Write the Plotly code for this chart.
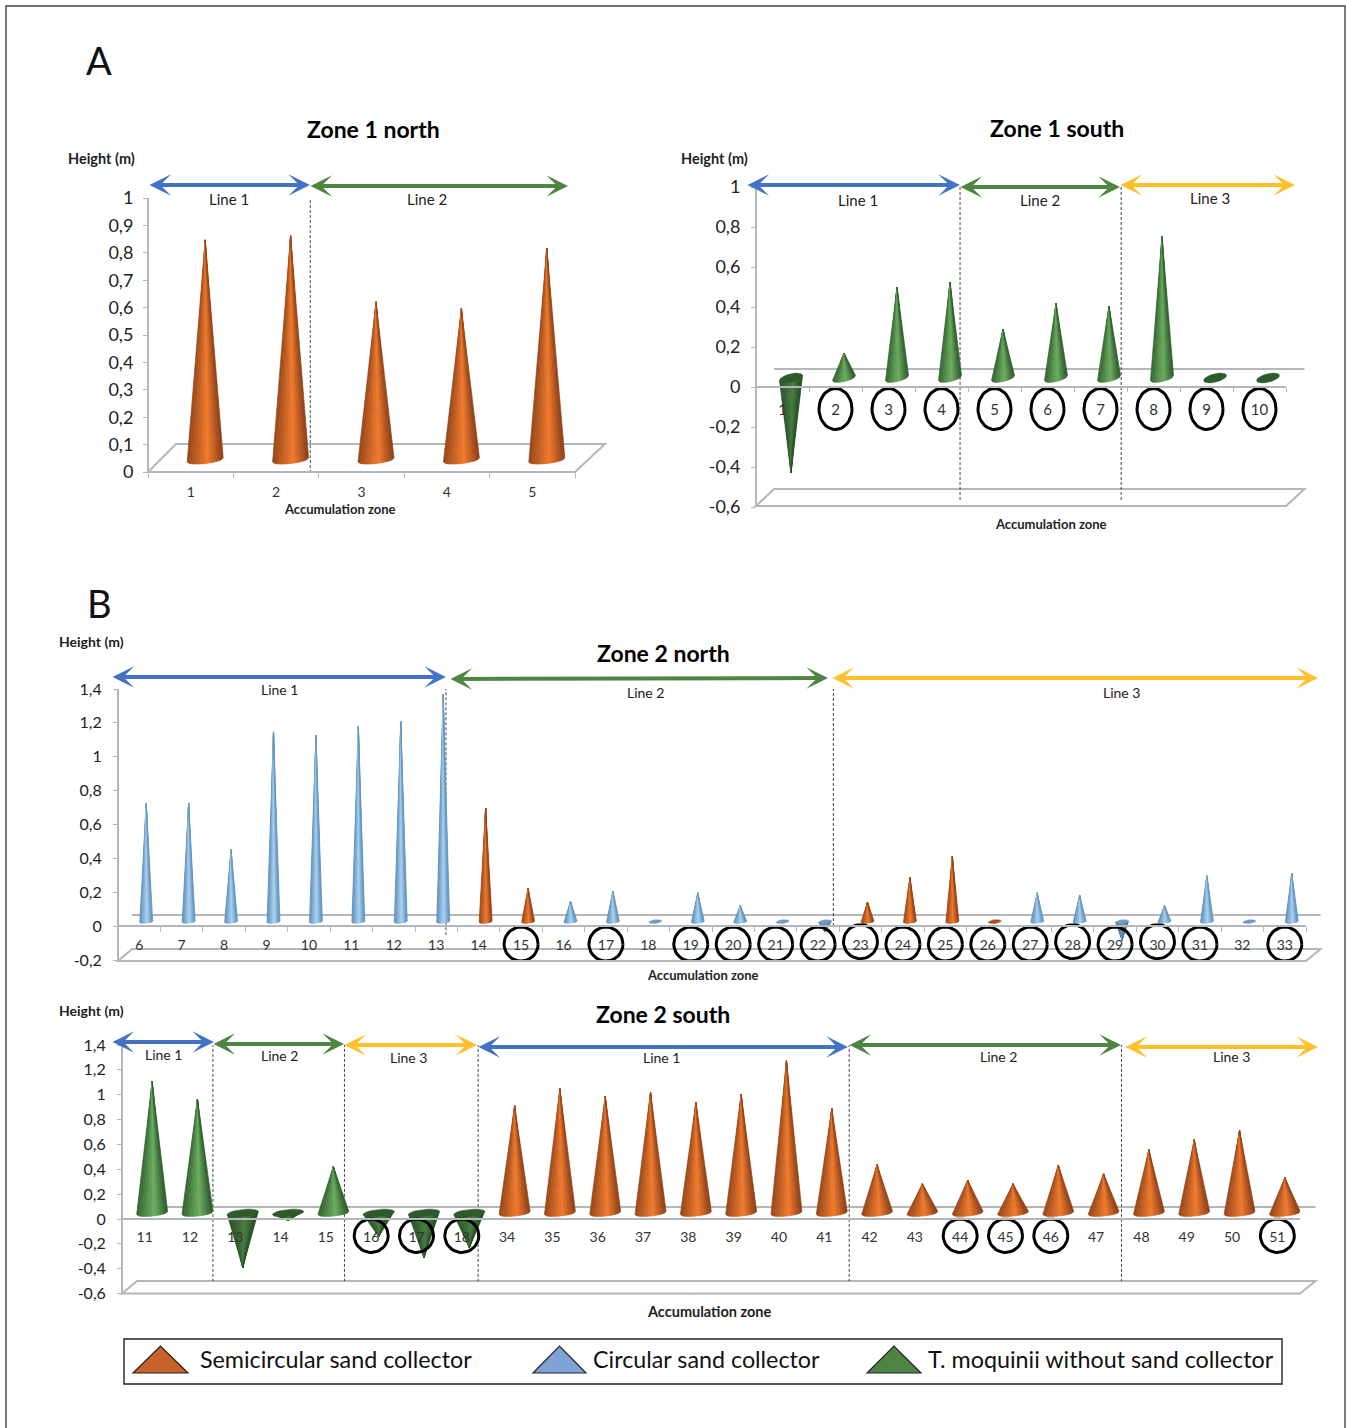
import math
import plotly.graph_objects as go

W, H = 1346, 1428

# ---------- data ----------
z1n_zones = [1, 2, 3, 4, 5]
z1n_heights = [0.803, 0.818, 0.577, 0.553, 0.773]
z1n_types = ["S", "S", "S", "S", "S"]
z1n_circled = []

z1s_zones = [1, 2, 3, 4, 5, 6, 7, 8, 9, 10]
z1s_heights = [-0.475, 0.125, 0.455, 0.48, 0.245, 0.375, 0.36, 0.71, 0, 0]
z1s_types = ["T"] * 10
z1s_circled = [2, 3, 4, 5, 6, 7, 8, 9, 10]

z2n_zones = list(range(6, 34))
z2n_heights = [0.70, 0.70, 0.425, 1.12, 1.10, 1.15, 1.18, 1.34, 0.67, 0.195, 0.12, 0.18, 0,
               0.17, 0.095, 0, -0.06, 0.115, 0.26, 0.385, 0, 0.17, 0.155, -0.11, 0.095, 0.27, 0, 0.285]
z2n_types = ["C"] * 8 + ["S", "S"] + ["C"] * 7 + ["S", "S", "S", "S"] + ["C"] * 7
z2n_circled = [15, 17, 19, 20, 21, 22, 23, 24, 25, 26, 27, 28, 29, 30, 31, 33]

z2s_zones = [11, 12, 13, 14, 15, 16, 17, 18] + list(range(34, 52))
z2s_heights = [1.06, 0.917, -0.44, -0.06, 0.375, -0.19, -0.36, -0.28,
               0.863, 1.0, 0.94, 0.97, 0.89, 0.957, 1.225, 0.84,
               0.39, 0.235, 0.265, 0.235, 0.385, 0.315, 0.51, 0.59, 0.665, 0.285]
z2s_types = ["T"] * 8 + ["S"] * 18
z2s_circled = [16, 17, 18, 44, 45, 46, 51]

ticks_01 = [i / 10 for i in range(0, 11)]
ticks_z1s = [-0.6, -0.4, -0.2, 0, 0.2, 0.4, 0.6, 0.8, 1]
ticks_z2n = [-0.2, 0, 0.2, 0.4, 0.6, 0.8, 1, 1.2, 1.4]
ticks_z2s = [-0.6, -0.4, -0.2, 0, 0.2, 0.4, 0.6, 0.8, 1, 1.2, 1.4]

legend_labels = ["Semicircular sand collector", "Circular sand collector", "T. moquinii without sand collector"]

# ---------- styling ----------
FONT = "Lato, Open Sans, sans-serif"
GRAY = "#B3B6BA"
BLUE, GREEN, YELLOW = "#4472C4", "#4E8542", "#FFC02D"
RAMP = {
    "S": ((150, 70, 26), (242, 122, 44), (140, 64, 24)),
    "C": ((92, 140, 182), (170, 212, 244), (96, 144, 186)),
    "T": ((50, 98, 46), (108, 174, 96), (44, 90, 42)),
}
RAMP_DOWN = {
    "S": ((130, 60, 22), (190, 95, 36), (120, 55, 20)),
    "C": ((78, 116, 150), (110, 150, 185), (78, 116, 150)),
    "T": ((40, 80, 38), (72, 124, 64), (36, 74, 34)),
}
TOP = {"S": "#A8501F", "C": "#6F9CC4", "T": "#2F5A2C"}
NB = 16


def band_color(ramp, t):
    a, b, c = ramp
    if t < 0.58:
        f = t / 0.58
        p, q = a, b
    else:
        f = (t - 0.58) / 0.42
        p, q = b, c
    return "rgb(%d,%d,%d)" % tuple(p[i] + (q[i] - p[i]) * f for i in range(3))


def px(x):
    return x / W


def py(y):
    return 1 - y / H


panels = [
    dict(name="", zones=z1n_zones, h=z1n_heights, types=z1n_types, circled=z1n_circled,
         x0=148, x1=575, ytop=198, ybot=472, rng=(0, 1), ticks=ticks_01,
         shift=14.5, base=460, hw=18, ry=3.5, tilt=2, zero_y=472,
         floor=(444, 472, 28, 30), back=None,
         dashes=[(2.40, 1.12, -0.04)], circ=(17, 17, []), ticklen=5, xfs=14, yfs=18, stand=7, ystand=6),
    dict(name="2", zones=z1s_zones, h=z1s_heights, types=z1s_types, circled=z1s_circled,
         x0=756, x1=1286, ytop=187, ybot=507, rng=(-0.6, 1), ticks=ticks_z1s,
         shift=8.5, base=378, hw=11.5, ry=3.5, tilt=2.5, zero_y=387,
         floor=(489, 506, 18, 18.5), back=369,
         dashes=[(4.35, 1.0, -0.565), (7.39, 1.0, -0.565)],
         circ=(16.5, 20.5, [-0.11] * 9), ticklen=4, xfs=15, yfs=18, stand=9, ystand=7),
    dict(name="3", zones=z2n_zones, h=z2n_heights, types=z2n_types, circled=z2n_circled,
         x0=118, x1=1306, ytop=689, ybot=960, rng=(-0.2, 1.4), ticks=ticks_z2n,
         shift=7, base=921.5, hw=6.5, ry=1.5, tilt=0.6, zero_y=926,
         floor=(949, 961, 14, 14.5), back=915,
         dashes=[(8.23, 1.41, -0.053), (17.36, 1.465, -0.012)],
         circ=(17, 17, [-0.106, -0.106, -0.106, -0.106, -0.106, -0.106, -0.092, -0.106, -0.106, -0.106,
                        -0.106, -0.092, -0.106, -0.092, -0.106, -0.106]),
         ticklen=5, xfs=14, yfs=16, stand=6, ystand=8),
    dict(name="4", zones=z2s_zones, h=z2s_heights, types=z2s_types, circled=z2s_circled,
         x0=122, x1=1300, ytop=1045, ybot=1293.6, rng=(-0.6, 1.4), ticks=ticks_z2s,
         shift=7.5, base=1213, hw=15.5, ry=3, tilt=1.5, zero_y=1219,
         floor=(1281, 1293.6, 15, 15.5), back=1207,
         dashes=[(2.507, 1.57, -0.5), (5.41, 1.57, -0.5), (8.36, 1.57, -0.5),
                 (16.55, 1.57, -0.5), (22.56, 1.57, -0.5)],
         circ=(17, 16.7, [-0.134] * 7), ticklen=0, xfs=14, yfs=16, stand=5, ystand=8),
]

fig = go.Figure()
layout = {}
shapes = []

for p in panels:
    n = len(p["zones"])
    xa, ya = "x" + p["name"], "y" + p["name"]
    uy = (p["ybot"] - p["ytop"]) / (p["rng"][1] - p["rng"][0])
    ux = (p["x1"] - p["x0"]) / n
    dx = p["shift"] / ux
    base = (p["zero_y"] - p["base"]) / uy
    hw, ry, tilt = p["hw"] / ux, p["ry"] / uy, p["tilt"] / uy

    layout["xaxis" + p["name"]] = dict(
        domain=[px(p["x0"]), px(p["x1"])], range=[0.5, n + 0.5], anchor="free",
        position=py(p["zero_y"]), showgrid=False, zeroline=False, showline=True,
        linecolor=GRAY, linewidth=2, tickvals=list(range(1, n + 1)),
        ticktext=[str(z) for z in p["zones"]], ticks="",
        tickfont=dict(family=FONT, size=p["xfs"], color="#333"), tickangle=0,
        ticklabelstandoff=p["stand"],
        minor=dict(tickvals=[0.5 + i for i in range(n + 1)], ticks="outside" if p["ticklen"] else "",
                   ticklen=p["ticklen"], tickcolor=GRAY, tickwidth=1, showgrid=False),
    )
    layout["yaxis" + p["name"]] = dict(
        domain=[py(p["ybot"]), py(p["ytop"])], range=list(p["rng"]), anchor="free",
        position=px(p["x0"]), showgrid=False, zeroline=False, showline=True,
        linecolor=GRAY, linewidth=2, tickvals=p["ticks"],
        ticktext=[("%g" % v).replace(".", ",") for v in p["ticks"]],
        ticks="outside", ticklen=4, tickcolor=GRAY, ticklabelstandoff=p["ystand"],
        tickfont=dict(family=FONT, size=p["yfs"], color="#222"),
    )

    # floor and back wall lines (drawn as page decoration)
    yb, yf, d1, d2 = p["floor"]
    shapes.append(dict(
        type="path", xref="paper", yref="paper", layer="below",
        path="M%f,%f L%f,%f L%f,%f L%f,%f Z" % (
            px(p["x0"]), py(yf), px(p["x0"] + d1), py(yb),
            px(p["x1"] + d2), py(yb), px(p["x1"]), py(yf)),
        line=dict(color=GRAY, width=2)))
    if p["back"]:
        shapes.append(dict(type="line", xref="paper", yref="paper", layer="below",
                           x0=px(p["x0"] + p["floor"][2]), x1=px(p["x1"] + p["floor"][3]),
                           y0=py(p["back"]), y1=py(p["back"]), line=dict(color=GRAY, width=2)))

    # dashed line separators
    for xv, yt, yl in p["dashes"]:
        fig.add_trace(go.Scatter(x=[xv, xv], y=[yt, yl], xaxis=xa, yaxis=ya, mode="lines",
                                 line=dict(color="#444", width=1, dash="3px,2px"),
                                 cliponaxis=False, hoverinfo="skip", showlegend=False))

    # cones from the height values
    for kind in ("S", "C", "T"):
        idx = [i for i in range(n) if p["types"][i] == kind]
        if not idx:
            continue
        for down in (False, True):
            ramp = RAMP_DOWN[kind] if down else RAMP[kind]
            for b in range(NB):
                xs, ys = [], []
                for i in idx:
                    v = p["h"][i]
                    if v == 0 or (v < 0) != down:
                        continue
                    xc = i + 1 + dx
                    pts = []
                    for t in (b / NB, (b + 1) / NB):
                        c = 2 * t - 1
                        sag = ry * math.sqrt(max(0, 1 - c * c))
                        pts.append((xc + hw * c, base + tilt * c + (-sag if v > 0 else 0)))
                    xs += [xc, pts[0][0], pts[1][0], xc, None]
                    ys += [base + v, pts[0][1], pts[1][1], base + v, None]
                col = band_color(ramp, (b + 0.5) / NB)
                if xs:
                    fig.add_trace(go.Scatter(x=xs, y=ys, xaxis=xa, yaxis=ya, mode="lines", fill="toself",
                                             fillcolor=col, line=dict(color=col, width=0.7),
                                             cliponaxis=False, hoverinfo="skip", showlegend=False))
        # visible open ellipse of flat and downward cones
        xs, ys = [], []
        for i in idx:
            v = p["h"][i]
            if v > 0:
                continue
            xc = i + 1 + dx
            for k in range(25):
                a = 2 * math.pi * k / 24
                xs.append(xc + hw * math.cos(a))
                ys.append(base + ry * 1.2 * math.sin(a) + tilt * math.cos(a))
            xs.append(None)
            ys.append(None)
        if xs:
            fig.add_trace(go.Scatter(x=xs, y=ys, xaxis=xa, yaxis=ya, mode="lines", fill="toself",
                                     fillcolor=TOP[kind], line=dict(color=TOP[kind], width=0.5),
                                     cliponaxis=False, hoverinfo="skip", showlegend=False))

    # circles round the labels
    rx, ry2, cy = p["circ"]
    if p["circled"]:
        xs, ys = [], []
        for z, yy in zip(p["circled"], cy):
            i = p["zones"].index(z) + 1
            for k in range(41):
                a = 2 * math.pi * k / 40
                xs.append(i + rx / ux * math.cos(a))
                ys.append(yy + ry2 / uy * math.sin(a))
            xs.append(None)
            ys.append(None)
        fig.add_trace(go.Scatter(x=xs, y=ys, xaxis=xa, yaxis=ya, mode="lines",
                                 line=dict(color="#000", width=3), cliponaxis=False,
                                 hoverinfo="skip", showlegend=False))

annotations = []


def text(x, y, s, size, bold=False, color="#222"):
    annotations.append(dict(xref="paper", yref="paper", x=px(x), y=py(y), text="<b>%s</b>" % s if bold else s,
                            showarrow=False, xanchor="center", yanchor="middle",
                            font=dict(family=FONT, size=size, color=color)))


def arrow(x0, x1, y0, y1, color):
    x0 -= 3.5
    annotations.append(dict(xref="paper", yref="paper", x=px(x1), y=py(y1), axref="pixel", ayref="pixel",
                            ax=x0 - x1, ay=y0 - y1, text=" ", showarrow=True, arrowside="end+start",
                            arrowhead=3, startarrowhead=3, arrowsize=0.9, startarrowsize=0.9,
                            arrowwidth=4, arrowcolor=color, standoff=0, startstandoff=0))


text(99, 60, "A", 38, color="#111")
text(99, 603, "B", 38, color="#111")
text(373, 129, "Zone 1 north", 23, True, color="#000")
text(1057, 128, "Zone 1 south", 23, True, color="#000")
text(663, 653, "Zone 2 north", 23, True, color="#000")
text(663, 1014, "Zone 2 south", 23, True, color="#000")
for x, y in [(101, 158), (714, 158)]:
    text(x, y, "Height (m)", 14.5, True)
for x, y in [(92, 642), (92, 1010)]:
    text(x, y, "Height (m)", 14, True)
for x, y in [(340, 509), (1051, 524)]:
    text(x, y, "Accumulation zone", 13, True)
text(703, 975, "Accumulation zone", 13, True)
text(709, 1311, "Accumulation zone", 14.5, True)
for x, y, s in [(229, 199, "Line 1"), (427, 199, "Line 2"), (858, 200, "Line 1"), (1040, 200, "Line 2"),
                (1210, 198, "Line 3"), (279, 689, "Line 1"), (645, 692, "Line 2"), (1121, 692, "Line 3"),
                (163, 1054, "Line 1"), (279, 1055, "Line 2"), (409, 1057, "Line 3"), (661, 1057, "Line 1"),
                (998, 1056, "Line 2"), (1231, 1056, "Line 3")]:
    text(x, y, s, 15 if y < 300 else 14)

for a in [(150, 310, 185, 185, BLUE), (311, 568, 186, 186, GREEN), (748, 960, 185, 185, BLUE),
          (961, 1120, 187, 187, GREEN), (1121, 1295, 185, 185, YELLOW), (113, 446, 677, 677, BLUE),
          (451, 828, 679, 678, GREEN), (833, 1318, 678, 678, YELLOW), (113, 214, 1042, 1042, BLUE),
          (214, 344, 1044, 1044, GREEN), (345, 477, 1045, 1045, YELLOW), (479, 848, 1047, 1047, BLUE),
          (850, 1121, 1045, 1045, GREEN), (1126, 1318, 1047, 1047, YELLOW)]:
    arrow(*a)

# legend box
shapes.append(dict(type="rect", xref="paper", yref="paper", x0=px(124), x1=px(1282), y0=py(1384), y1=py(1339),
                   line=dict(color="#222", width=1.4)))
for x0, x1, col, lab, tx in [(133, 188, "#C8622A", legend_labels[0], 336),
                             (533, 586, "#7FA3D6", legend_labels[1], 706),
                             (867, 921, "#4E8544", legend_labels[2], 1101)]:
    shapes.append(dict(type="path", xref="paper", yref="paper",
                       path="M%f,%f L%f,%f L%f,%f Z" % (px(x0), py(1373), px((x0 + x1) / 2), py(1346), px(x1), py(1373)),
                       fillcolor=col, line=dict(color="#222", width=1.2)))
    text(tx, 1359, lab, 23.3, color="#111")

# outer frame
shapes.append(dict(type="rect", xref="paper", yref="paper", x0=px(6), x1=px(1345), y0=py(1460), y1=py(6),
                   line=dict(color="#444", width=1.4)))

fig.update_layout(width=W, height=H, margin=dict(l=0, r=0, t=0, b=0, autoexpand=False), paper_bgcolor="white",
                  plot_bgcolor="rgba(0,0,0,0)", showlegend=False, shapes=shapes, annotations=annotations, **layout)

fig.write_html("out.html", config={"displayModeBar": False},
               post_script="document.body.style.margin='0';document.body.style.overflow='hidden';")
